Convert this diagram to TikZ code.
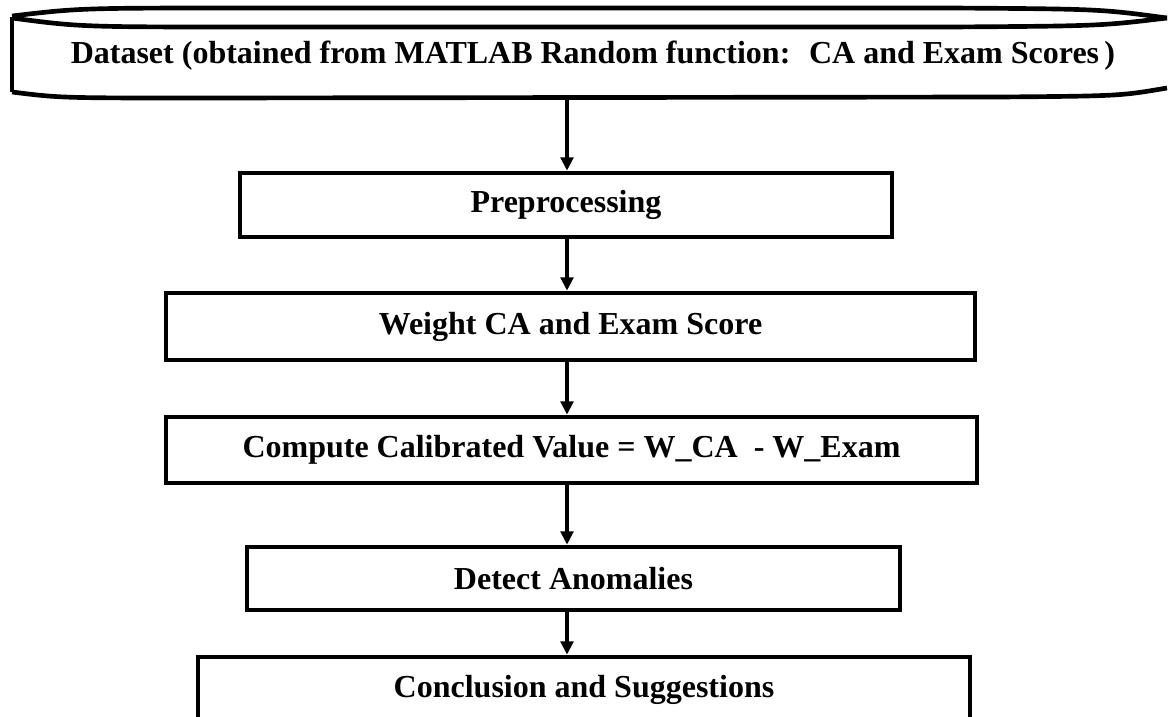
\documentclass[tikz,border=0pt]{standalone}
\usepackage{fontspec}
\setmainfont{Liberation Serif}
\usepackage{tikz}
\usetikzlibrary{arrows.meta,positioning}

\begin{document}
\begin{tikzpicture}[x=0.75pt,y=-0.75pt,>={Triangle[length=10pt,width=9.5pt]},line width=3.5pt,
  every node/.style={font=\bfseries\fontsize{24}{28}\selectfont}]
\tikzstyle{box}=[draw,line width=3.5pt,inner sep=0pt,align=center]
\useasboundingbox (0,0) rectangle (1172,717);
\clip (0,0) rectangle (1172,717);
% scroll banner at the top
\node (data) at (593,56) {Dataset (obtained from MATLAB Random function: \ CA and Exam Scores\,)};
\draw (12,17) -- (12,92);
\draw (12,16) .. controls (80,8) .. (250,8) -- (950,8) .. controls (1100,9) .. (1167,18);
\draw (12,18) .. controls (80,27) .. (250,27) -- (950,27) .. controls (1100,26) .. (1167,18);
\draw (12,92) .. controls (60,98) .. (200,98) -- (1000,97) .. controls (1120,96) .. (1167,88);
\coordinate (dbot) at (567,97);
\coordinate (ax) at (567,0);
% steps
\node[box,minimum width=489pt,minimum height=48pt] (pre) at (566,205) {Preprocessing};
\node[box,minimum width=606.75pt,minimum height=50.25pt] (weight) at (570.5,326.5) {Weight CA and Exam Score};
\node[box,minimum width=608.25pt,minimum height=49.5pt] (comp) at (571.5,450) {Compute Calibrated Value = W\_CA \ - W\_Exam};
\node[box,minimum width=489.75pt,minimum height=47.25pt] (detect) at (573.5,578.5) {Detect Anomalies};
\node[box,minimum width=579pt,minimum height=49.5pt] (concl) at (584,690) {Conclusion and Suggestions};
% arrows
\draw[->] (dbot) -- (pre.north -| ax);
\draw[->] (pre.south -| ax) -- (weight.north -| ax);
\draw[->] (weight.south -| ax) -- (comp.north -| ax);
\draw[->] (comp.south -| ax) -- (detect.north -| ax);
\draw[->] (detect.south -| ax) -- (concl.north -| ax);
\end{tikzpicture}
\end{document}
